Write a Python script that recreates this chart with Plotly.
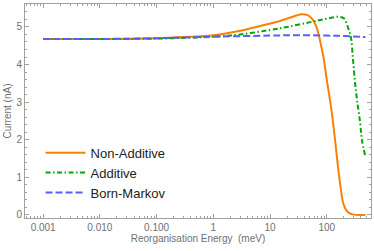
import plotly.graph_objects as go

# --- data ---
energy_non_additive = [0.001, 0.01, 0.1, 0.3, 1, 3, 10, 15, 20, 30, 36, 45, 50, 57, 65, 72, 80, 87,
                       100, 121, 140, 160, 180, 195, 220, 250, 300, 400, 480]
current_non_additive = [4.68, 4.68, 4.70, 4.73, 4.78, 4.90, 5.09, 5.16, 5.22, 5.31, 5.34, 5.32, 5.28,
                        5.19, 5.02, 4.80, 4.48, 4.22, 3.60, 2.79, 2.00, 1.20, 0.62, 0.31, 0.13,
                        0.05, 0.01, 0.0, 0.0]

energy_additive = [0.001, 0.01, 0.1, 1, 3, 10, 20, 56, 100, 160, 200, 240, 268, 288, 312, 342,
                   388, 417, 480]
current_additive = [4.68, 4.68, 4.69, 4.74, 4.80, 4.92, 5.00, 5.14, 5.22, 5.27, 5.23, 4.96, 4.70,
                    4.20, 3.59, 3.05, 2.45, 2.00, 1.55]

energy_born_markov = [0.001, 0.01, 0.1, 1, 10, 30, 100, 200, 480]
current_born_markov = [4.68, 4.68, 4.70, 4.74, 4.77, 4.78, 4.77, 4.76, 4.73]

x_tick_vals = [0.001, 0.01, 0.1, 1, 10, 100]
x_tick_text = ["0.001", "0.010", "0.100", "1", "10", "100"]

x_minor = [m * 10.0 ** e for e in range(-4, 3) for m in range(2, 10)]

fig = go.Figure()
fig.add_trace(go.Scatter(x=energy_non_additive, y=current_non_additive, mode="lines",
                         name="Non-Additive", line=dict(color="#ff8000", width=2, shape="spline")))
fig.add_trace(go.Scatter(x=energy_additive, y=current_additive, mode="lines",
                         name="Additive",
                         line=dict(color="#00a800", width=2, shape="spline",
                                   dash="5px,2.5px,1.5px,2.5px")))
fig.add_trace(go.Scatter(x=energy_born_markov, y=current_born_markov, mode="lines",
                         name="Born-Markov",
                         line=dict(color="#5c5cff", width=2, shape="spline", dash="7px,3px")))

axis_common = dict(showline=True, linecolor="#a0a0a0", linewidth=1, mirror="ticks",
                   ticks="inside", ticklen=4, tickcolor="#a0a0a0", showgrid=False, zeroline=False,
                   automargin=False,
                   tickfont=dict(family="Liberation Sans", size=10, color="#707070"))

fig.update_xaxes(type="log", range=[-3.32, 2.78], tickvals=x_tick_vals, ticktext=x_tick_text,
                 minor=dict(tickvals=x_minor, ticks="inside", ticklen=2, tickcolor="#a0a0a0"),
                 title=dict(text="Reorganisation Energy \u00a0(meV)", standoff=2,
                            font=dict(family="Liberation Sans", size=10, color="#707070")),
                 **axis_common)
fig.update_yaxes(range=[-0.08, 5.61], dtick=1, tick0=0,
                 minor=dict(dtick=0.2, ticks="inside", ticklen=2, tickcolor="#a0a0a0"),
                 title=dict(text="Current (nA)", standoff=2,
                            font=dict(family="Liberation Sans", size=10, color="#707070")),
                 **axis_common)

fig.update_layout(
    width=374, height=251,
    margin=dict(l=25, r=3, t=4, b=33, autoexpand=False),
    plot_bgcolor="white", paper_bgcolor="white",
    showlegend=True,
    legend=dict(x=0.045, y=0.375, xanchor="left", yanchor="top", bgcolor="rgba(0,0,0,0)",
                font=dict(family="Liberation Sans", size=13, color="#222222"),
                itemwidth=40, tracegroupgap=0),
)

fig.write_html("out.html", config={"displayModeBar": False},
               post_script="document.body.style.margin='0';document.body.style.overflow='hidden';")
